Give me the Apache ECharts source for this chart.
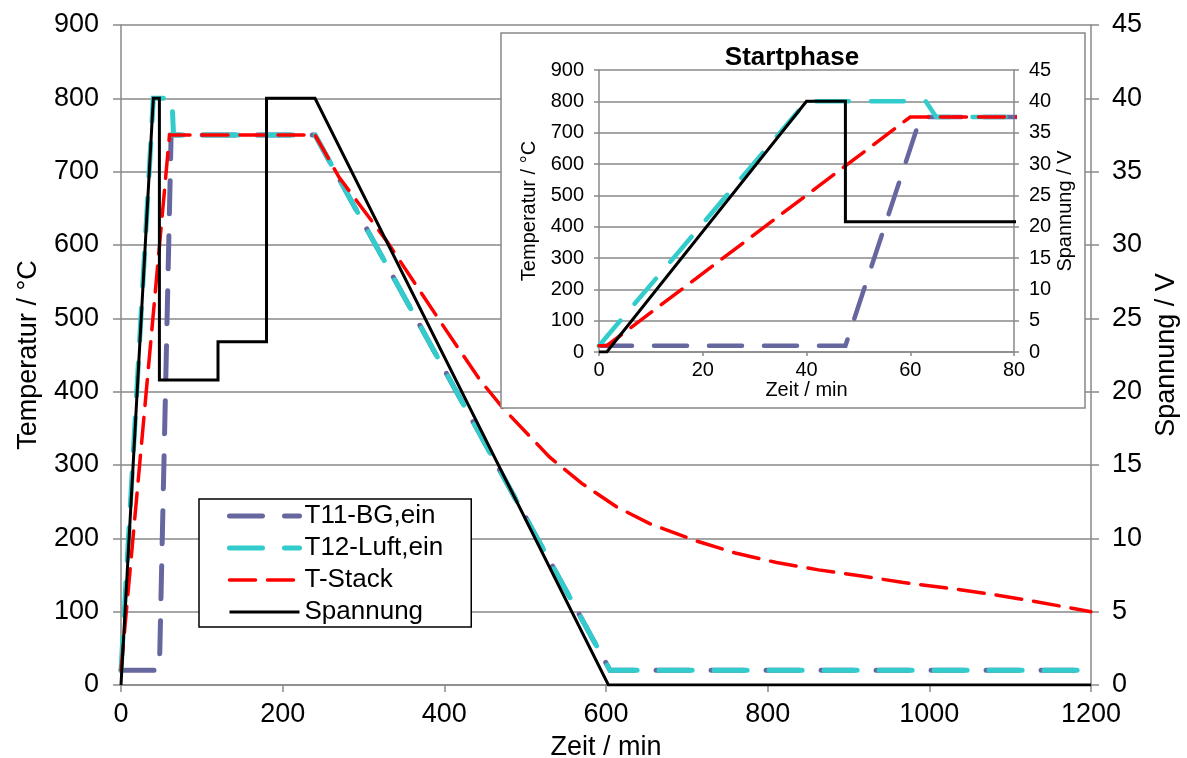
<!DOCTYPE html>
<html>
<head>
<meta charset="utf-8">
<script src="https://cdn.jsdelivr.net/npm/echarts@6/dist/echarts.min.js"></script>
<style>
  html, body { margin: 0; padding: 0; background: #fff; }
  #chart { width: 1187px; height: 758px; }
</style>
</head>
<body>
<div id="chart"></div>
<script>
// Time axis in minutes, temperatures in °C, voltage in V
const t11Time = [0, 47.5, 62, 240, 605, 1200];
const t11Temp = [20, 20, 750, 750, 20, 20];

const t12Time = [0, 40, 63, 65, 240, 605, 1200];
const t12Temp = [20, 800, 800, 750, 750, 20, 20];

const stackTime = [0, 1.5, 60, 240, 270, 285, 329, 399, 444, 473, 530, 570, 613, 654, 710, 760, 811, 863, 914, 966, 1017, 1069, 1120, 1200];
const stackTemp = [20, 20, 750, 750, 692, 670, 605, 489, 416, 377, 311, 275, 243, 220, 197, 180, 167, 157, 149, 140, 133, 125, 116, 100];

const voltTime = [0, 1.5, 40, 47.5, 47.5, 120, 120, 180, 180, 240, 603, 1200];
const voltValue = [0, 0, 40, 40, 20.8, 20.8, 23.4, 23.4, 40, 40, 0, 0];

const seriesNames = ['T11-BG,ein', 'T12-Luft,ein', 'T-Stack', 'Spannung'];

const pairs = (xs, ys) => xs.map((x, i) => [x, ys[i]]);

const FONT = 'Liberation Sans, Arial, sans-serif';
const GRID_GRAY = '#898989';
const C_T11 = '#6767a0';
const C_T12 = '#33cccc';
const C_STACK = '#ff0000';
const C_VOLT = '#000000';

const DASH_LONG = [33, 22];
const DASH_RED = [26, 12];

const styles = [
  { color: C_T11, width: 5, type: DASH_LONG },
  { color: C_T12, width: 5, type: DASH_LONG },
  { color: C_STACK, width: 3.5, type: DASH_RED },
  { color: C_VOLT, width: 3, type: 'solid' }
];

function lineStyleOf(s, width) {
  return { color: s.color, width: width, type: s.type, cap: s.type === 'solid' ? 'butt' : 'round', join: 'miter' };
}

function lineSeries(idx, data, width, xi, yi, z) {
  const s = styles[idx];
  return {
    name: seriesNames[idx],
    type: 'line',
    xAxisIndex: xi,
    yAxisIndex: yi,
    data: data,
    symbol: 'none',
    showSymbol: false,
    clip: true,
    z: z,
    lineStyle: lineStyleOf(s, width),
    itemStyle: { color: s.color },
    emphasis: { disabled: true }
  };
}

function axisCommon(fontSize) {
  return {
    axisLine: { show: true, onZero: false, lineStyle: { color: GRID_GRAY, width: 1.5 } },
    axisLabel: { color: '#000', fontFamily: FONT, fontSize: fontSize },
    nameTextStyle: { color: '#000', fontFamily: FONT, fontSize: fontSize },
    nameLocation: 'middle'
  };
}

const plain = v => String(v);
const MAIN_FS = 27;
const INSET_FS = 20;

const chart = echarts.init(document.getElementById('chart'), null, { renderer: 'canvas' });

const option = {
  animation: false,
  backgroundColor: '#fff',
  textStyle: { fontFamily: FONT },
  title: {
    text: 'Startphase',
    left: 787,
    top: 40,
    textAlign: 'center',
    z: 8,
    textStyle: { fontFamily: FONT, fontSize: 26, fontWeight: 'bold', color: '#000' }
  },
  legend: {
    data: seriesNames.map((n, i) => ({
      name: n,
      itemStyle: { opacity: 0 },
      lineStyle: lineStyleOf(styles[i], styles[i].width)
    })),
    orient: 'vertical',
    left: 199,
    top: 499,
    itemWidth: 70,
    itemHeight: 25,
    itemGap: 6,
    padding: [4, 28, 2, 28],
    backgroundColor: '#fff',
    borderColor: '#000',
    borderWidth: 1.5,
    borderRadius: 0,
    selectedMode: false,
    textStyle: { fontFamily: FONT, fontSize: 26, color: '#000' }
  },
  graphic: {
    z: 5,
    elements: [{
      type: 'rect',
      z: 5,
      shape: { x: 501, y: 33, width: 584, height: 375 },
      style: { fill: '#fff', stroke: '#888', lineWidth: 1.5 }
    }]
  },
  grid: [
    { left: 121, right: 96, top: 25, bottom: 73, containLabel: false, outerBoundsMode: 'none' },
    { left: 599, right: 173, top: 70, bottom: 406, containLabel: false, outerBoundsMode: 'none' }
  ],
  xAxis: [
    Object.assign(axisCommon(MAIN_FS), {
      gridIndex: 0, type: 'value', min: 0, max: 1200, interval: 200,
      name: 'Zeit / min', nameGap: 49,
      splitLine: { show: false },
      axisTick: { show: true, length: 7, lineStyle: { color: GRID_GRAY, width: 1.5 } },
      axisLabel: { color: '#000', fontFamily: FONT, fontSize: MAIN_FS, margin: 16, formatter: plain }
    }),
    Object.assign(axisCommon(INSET_FS), {
      gridIndex: 1, type: 'value', min: 0, max: 80, interval: 20, z: 6,
      name: 'Zeit / min', nameGap: 27,
      splitLine: { show: false },
      axisTick: { show: true, length: 4, lineStyle: { color: GRID_GRAY, width: 1.5 } },
      axisLabel: { color: '#000', fontFamily: FONT, fontSize: INSET_FS, margin: 8, formatter: plain }
    })
  ],
  yAxis: [
    Object.assign(axisCommon(MAIN_FS), {
      gridIndex: 0, type: 'value', min: 0, max: 900, interval: 100, position: 'left',
      name: 'Temperatur / °C', nameGap: 79, nameRotate: 90,
      splitLine: { show: true, lineStyle: { color: GRID_GRAY, width: 1.5 } },
      axisTick: { show: true, length: 8, lineStyle: { color: GRID_GRAY, width: 1.5 } },
      axisLabel: { color: '#000', fontFamily: FONT, fontSize: MAIN_FS, margin: 22, formatter: plain }
    }),
    Object.assign(axisCommon(MAIN_FS), {
      gridIndex: 0, type: 'value', min: 0, max: 45, interval: 5, position: 'right',
      name: 'Spannung / V', nameGap: 61, nameRotate: 90,
      splitLine: { show: false },
      axisTick: { show: true, length: 8, lineStyle: { color: GRID_GRAY, width: 1.5 } },
      axisLabel: { color: '#000', fontFamily: FONT, fontSize: MAIN_FS, margin: 21, formatter: plain }
    }),
    Object.assign(axisCommon(INSET_FS), {
      gridIndex: 1, type: 'value', min: 0, max: 900, interval: 100, position: 'left', z: 6,
      name: 'Temperatur / °C', nameGap: 60, nameRotate: 90,
      splitLine: { show: true, lineStyle: { color: GRID_GRAY, width: 1.5 } },
      axisTick: { show: true, length: 5, lineStyle: { color: GRID_GRAY, width: 1.5 } },
      axisLabel: { color: '#000', fontFamily: FONT, fontSize: INSET_FS, margin: 15, formatter: plain }
    }),
    Object.assign(axisCommon(INSET_FS), {
      gridIndex: 1, type: 'value', min: 0, max: 45, interval: 5, position: 'right', z: 6,
      name: 'Spannung / V', nameGap: 38, nameRotate: 90,
      splitLine: { show: false },
      axisTick: { show: true, length: 5, lineStyle: { color: GRID_GRAY, width: 1.5 } },
      axisLabel: { color: '#000', fontFamily: FONT, fontSize: INSET_FS, margin: 15, formatter: plain }
    })
  ],
  series: [
    // full run
    lineSeries(0, pairs(t11Time, t11Temp), 5, 0, 0, 2),
    lineSeries(1, pairs(t12Time, t12Temp), 5, 0, 0, 2),
    lineSeries(2, pairs(stackTime, stackTemp), 3.5, 0, 0, 2),
    lineSeries(3, pairs(voltTime, voltValue), 3, 0, 1, 2),
    // start phase detail
    lineSeries(0, pairs(t11Time, t11Temp), 4.5, 1, 2, 7),
    lineSeries(1, pairs(t12Time, t12Temp), 4.5, 1, 2, 7),
    lineSeries(2, pairs(stackTime, stackTemp), 3.5, 1, 2, 7),
    lineSeries(3, pairs(voltTime, voltValue), 3, 1, 3, 7)
  ]
};

chart.setOption(option);
</script>
</body>
</html>
